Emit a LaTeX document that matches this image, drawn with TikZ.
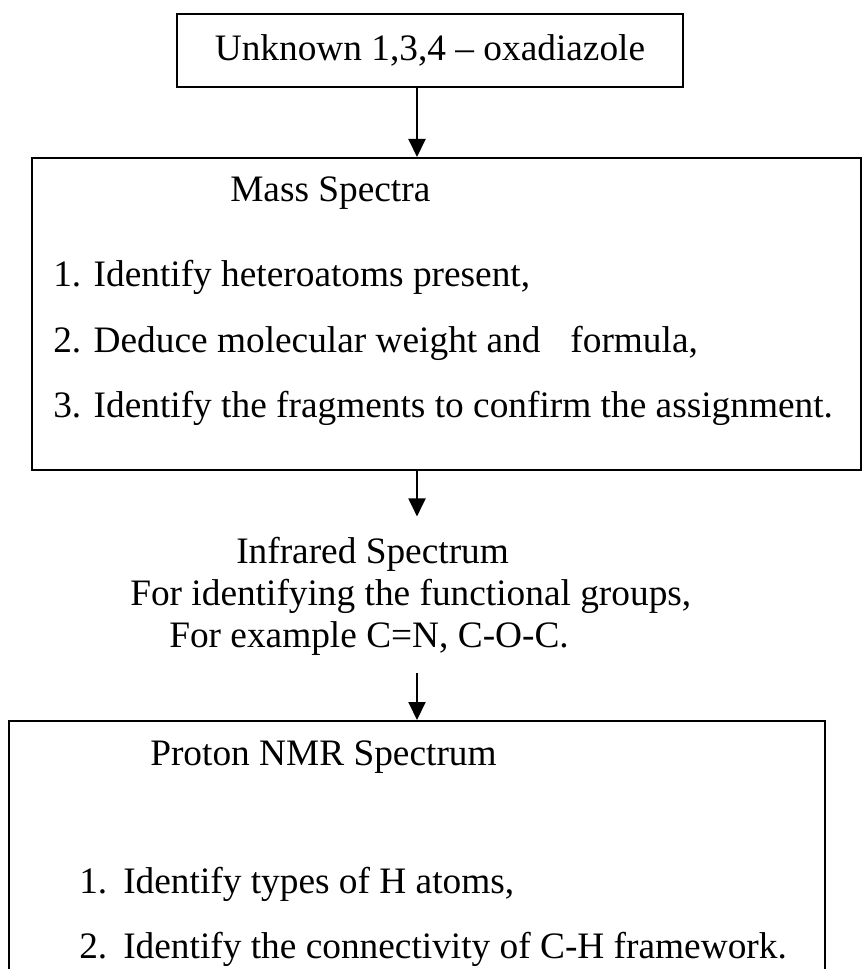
\documentclass[tikz,border=0pt]{standalone}
\usepackage{fontspec}
\setmainfont{Liberation Serif}
\usetikzlibrary{arrows.meta, positioning, calc}

\tikzset{
	stagebox/.style={draw, line width=1.5pt, inner sep=0pt, font=\fontsize{28}{34}\selectfont},
	txt/.style={anchor=base west, inner sep=0pt, font=\fontsize{28}{34}\selectfont},
	flowarrow/.style={line width=1.5pt, -{Triangle[width=12.75pt,length=13.5pt]}},
}

\begin{document}
\begin{tikzpicture}[x=0.75pt,y=0.75pt,yscale=-1,xscale=1]
	%set diagram left start at 0, and has height of 969
	\useasboundingbox (0,0) rectangle (862,969);
	\clip (0,0) rectangle (862,969);
	\coordinate (axis) at (417,0);
	
	%Shape: Rectangle [unknown]
	\node [stagebox, minimum width=379.5pt, minimum height=54.75pt] (unknown) at (430,50.5) {Unknown 1,3,4 -- oxadiazole};
	
	%Shape: Rectangle [mass]
	\node [stagebox, minimum width=621.75pt, minimum height=234pt] (mass) at (446.5,314) {};
	% Text Node
	\node [txt] (masstitle) at (230,202) {Mass Spectra};
	\node [txt] (mass1) at (53,287) {1. Identify heteroatoms present,};
	\node [txt] (mass2) at (53,352) {2. Deduce molecular weight and\hspace{0.8em}formula,};
	\node [txt] (mass3) at (53,417) {3. Identify the fragments to confirm the assignment.};
	
	% Text Node
	\node [txt] (ir1) at (236,563) {Infrared Spectrum};
	\node [txt] (ir2) at (130,605) {For identifying the functional groups,};
	\node [txt] (ir3) at (169,647) {For example C=N, C-O-C.};
	
	%Shape: Rectangle [nmr], open at the bottom edge
	\node [stagebox, minimum width=612pt, minimum height=209.25pt] (nmr) at (417,860.5) {};
	% Text Node
	\node [txt] (nmrtitle) at (150,765) {Proton NMR Spectrum};
	\node [txt] (nmr1) at (79,893) {1.\hspace{0.43em}Identify types of H atoms,};
	\node [txt] (nmr2) at (79,958) {2.\hspace{0.43em}Identify the connectivity of C-H framework.};
	
	%Straight Lines [arrows]
	\draw [flowarrow] (unknown.south -| axis) -- (mass.north -| axis);
	\draw [flowarrow, shorten >=15pt] (mass.south -| axis) -- (ir1.north -| axis);
	\draw [flowarrow, shorten <=13.5pt] (ir3.south -| axis) -- (nmr.north -| axis);
	
\end{tikzpicture}
\end{document}
